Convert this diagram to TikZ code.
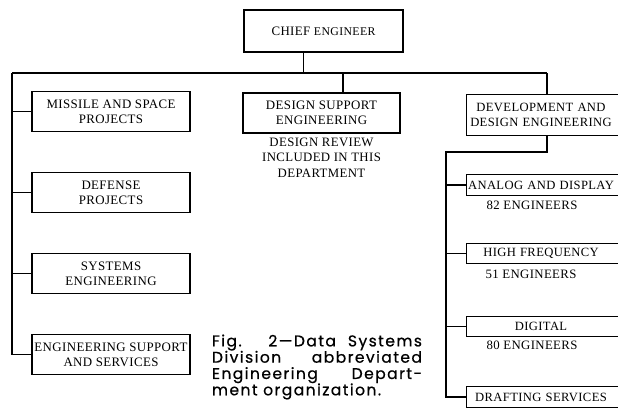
\documentclass[tikz,border=0pt]{standalone}
\usepackage{fontspec}
\setmainfont{Liberation Serif}[LetterSpace=3]
\newfontfamily\capfont{Poppins}[LetterSpace=9, FakeBold=0.6]
\usetikzlibrary{positioning}

\begin{document}
\begin{tikzpicture}[
  x=1pt, y=-1pt,
  node distance=40pt,
  unit/.style={draw, line width=1.1pt, align=center, minimum width=158pt,
               minimum height=40pt, inner sep=1pt,
               font=\fontsize{12.9}{15}\selectfont},
  group/.style={align=center, text width=148pt, minimum height=20pt,
                inner xsep=0pt, inner ysep=1pt,
                font=\fontsize{12.6}{15}\selectfont},
  note/.style={align=center, inner sep=1pt,
               font=\fontsize{12.8}{15.5}\selectfont},
  wire/.style={line width=1.1pt}
]
\useasboundingbox (0,0) rectangle (618,407);
\clip (0,0) rectangle (618,407);

% top of the chart
\node[unit, minimum width=159pt, minimum height=42pt] (chief) at (323.5,31)
  {CHIEF {\fontsize{11.8}{12}\selectfont ENGINEER}};

% left column
\node[unit] (missile) at (111,111.5) {MISSILE AND SPACE\\PROJECTS};
\node[unit, below=of missile] (defense) {DEFENSE\\PROJECTS};
\node[unit, below=of defense] (systems) {SYSTEMS\\ENGINEERING};
\node[unit, below=of systems] (engsup) {ENGINEERING SUPPORT\\AND SERVICES};

% middle column
\node[unit, minimum width=157pt] (design) at (321.5,113) {DESIGN SUPPORT\\ENGINEERING};
\node[note, below=3pt of design] (review) {DESIGN REVIEW\\INCLUDED IN THIS\\DEPARTMENT};

% right column, boxes run off the right edge
\node[group, minimum height=40pt] (dev) at (541,115) {DEVELOPMENT AND\\DESIGN ENGINEERING};
\node[group] (analog) at (541,185) {ANALOG AND DISPLAY};
\node[group] (hifreq) at (541,253.5) {HIGH FREQUENCY};
\node[group] (digital) at (541,326.5) {DIGITAL};
\node[group] (drafting) at (541,397) {DRAFTING SERVICES};
\node[note, below=5pt of analog, xshift=-9pt] (n82) {82 ENGINEERS};
\node[note, below=5pt of hifreq, xshift=-10pt] (n51) {51 ENGINEERS};
\node[note, below=3pt of digital, xshift=-9pt] (n80) {80 ENGINEERS};
\foreach \n in {dev,analog,hifreq,digital,drafting}
  \draw[wire] ([xshift=12pt]\n.north east) -| (\n.south west)
              -- ([xshift=12pt]\n.south east);

% caption
\node[align=justify, text width=210pt, inner sep=0pt,
      font=\capfont\fontsize{15.6}{16.3}\selectfont] (caption) at (317,367)
  {Fig. 2—Data Systems\linebreak Division abbreviated\linebreak
   Engineering Depart-\linebreak ment organization.};

% connectors
\coordinate (busL) at (12,73);
\coordinate (busR) at (547,73);
\coordinate (split) at (446,152);
\draw[wire] (busL) -- (busR);
\draw[wire] ([xshift=-20pt]chief.south) -- ([xshift=-20pt]chief.south |- busL);
\draw[wire] ([xshift=21.5pt]design.north) -- ([xshift=21.5pt]design.north |- busL);
\draw[wire] (busR) -- (busR |- dev.north);
\draw[wire] (busL) |- (engsup.west);
\draw[wire] (busL |- missile.west) -- (missile.west);
\draw[wire] (busL |- defense.west) -- (defense.west);
\draw[wire] (busL |- systems.west) -- (systems.west);
\draw[wire] (busR |- dev.south) |- (split) |- (drafting.west);
\draw[wire] (split |- analog.west) -- (analog.west);
\draw[wire] (split |- hifreq.west) -- (hifreq.west);
\draw[wire] (split |- digital.west) -- (digital.west);
\end{tikzpicture}
\end{document}
